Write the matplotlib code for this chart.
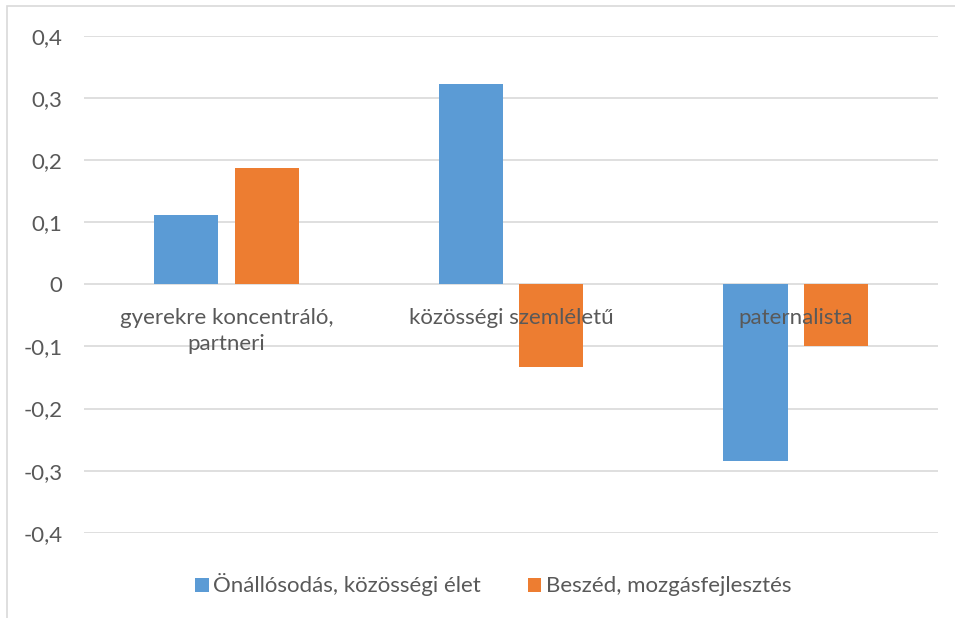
import matplotlib.pyplot as plt
from matplotlib.patches import Rectangle
import numpy as np

# data
categories = ['gyerekre koncentráló,\npartneri', 'közösségi szemléletű', 'paternalista']
series_names = ['Önállósodás, közösségi élet', 'Beszéd, mozgásfejlesztés']
onallosodas = [0.111, 0.323, -0.284]
beszed = [0.188, -0.133, -0.099]
yticks = [-0.4, -0.3, -0.2, -0.1, 0, 0.1, 0.2, 0.3, 0.4]

blue = '#5B9BD5'
orange = '#ED7D31'
text_col = '#595959'
grid_col = '#D9D9D9'

plt.rcParams['font.family'] = ['Lato', 'DejaVu Sans']
fs = 16

fig = plt.figure(figsize=(9.55, 6.18), dpi=100)
ax = fig.add_axes([0.0882, 0.1379, 0.8941, 0.8038])

x = np.arange(len(categories))
width = 0.225
offset = 0.1415
ax.bar(x - offset, onallosodas, width, color=blue, label=series_names[0], zorder=2)
ax.bar(x + offset, beszed, width, color=orange, label=series_names[1], zorder=2)

ax.set_xlim(-0.5, len(categories) - 0.5)
ax.set_ylim(-0.4, 0.4)
ax.set_yticks(yticks)
ax.set_yticklabels([('%g' % v).replace('.', ',') for v in yticks],
                   fontsize=fs, color=text_col)
ax.tick_params(axis='y', length=0, pad=15.5)
ax.set_xticks([])
ax.grid(axis='y', color=grid_col, linewidth=1.2, zorder=0)
for s in ax.spines.values():
    s.set_visible(False)

# category labels sit just under the zero line, as in Excel
for xi, cat in zip(x, categories):
    ax.text(xi, -0.038, cat, ha='center', va='top', fontsize=fs,
            color=text_col, linespacing=1.35, zorder=3)

leg = fig.legend(loc='center', bbox_to_anchor=(0.5165, 1 - 585 / 618), ncol=2,
                 frameon=False, fontsize=fs, handlelength=0.62, handleheight=0.6,
                 handletextpad=0.2, columnspacing=2.1)
for t in leg.get_texts():
    t.set_color(text_col)

# outer chart border (cut off at right and bottom in the reference)
fig.patches.append(Rectangle((7 / 955, -0.1), 1.2, 1 - 6 / 618 + 0.1,
                             transform=fig.transFigure, fill=False,
                             edgecolor=grid_col, linewidth=1.2))

fig.savefig('out.png', dpi=100)
